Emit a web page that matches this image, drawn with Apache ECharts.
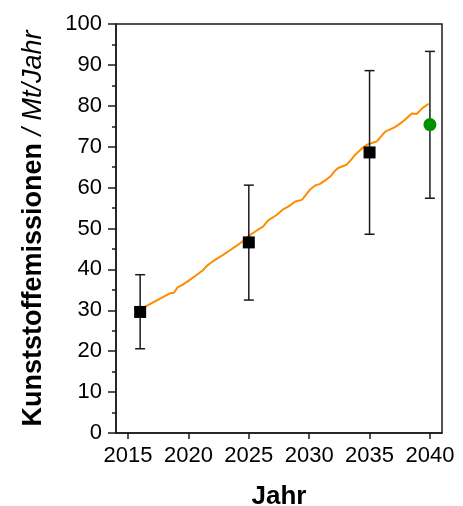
<!DOCTYPE html>
<html>
<head>
<meta charset="utf-8">
<script src="https://cdn.jsdelivr.net/npm/echarts@6/dist/echarts.min.js"></script>
<style>
  html, body { margin: 0; padding: 0; background: #fff; }
  #chart { width: 463px; height: 506px; }
</style>
</head>
<body>
<div id="chart"></div>
<script>
// Projected plastic emissions (Mt/year): model trend plus estimates with ranges
const trendYears = [2016, 2016.5, 2017, 2017.5, 2018, 2018.5, 2018.8, 2019.1, 2019.5, 2020,
  2020.7, 2021.2, 2021.5, 2021.8, 2022.3, 2022.9, 2023.5, 2024, 2024.5, 2025,
  2025.5, 2026.2, 2026.6, 2027.3, 2027.8, 2028.3, 2028.85, 2029.4, 2030.1, 2030.5,
  2030.9, 2031.3, 2031.75, 2032.1, 2032.4, 2033.1, 2033.5, 2033.8, 2034.3, 2034.8,
  2035.2, 2035.6, 2036.3, 2037.1, 2037.7, 2038.5, 2038.9, 2039.4, 2039.9];
const trendValues = [30.2, 31.0, 31.8, 32.6, 33.4, 34.2, 34.3, 35.6, 36.2, 37.2,
  38.7, 39.8, 40.8, 41.5, 42.5, 43.6, 44.8, 45.8, 46.9, 48.2,
  49.2, 50.5, 52.0, 53.3, 54.6, 55.4, 56.6, 57.0, 59.6, 60.5,
  60.9, 61.7, 62.7, 64.0, 64.8, 65.6, 66.9, 68.0, 69.4, 70.5,
  70.9, 71.3, 73.7, 74.8, 76.0, 78.1, 78.0, 79.5, 80.5];

// Estimates (squares) with lower/upper range
const estYears = [2016, 2025, 2035];
const estValues = [29.6, 46.6, 68.6];
const estLow = [20.6, 32.5, 48.6];
const estHigh = [38.7, 60.6, 88.6];

// Single point (circle) with range
const altYears = [2040];
const altValues = [75.4];
const altLow = [57.4];
const altHigh = [93.3];

const xTicks = [2015, 2020, 2025, 2030, 2035, 2040];

const trendData = trendYears.map((y, i) => [y, trendValues[i]]);
const estData = estYears.map((y, i) => [y, estValues[i]]);
const altData = altYears.map((y, i) => [y, altValues[i]]);
const barData = estYears.map((y, i) => [y, estLow[i], estHigh[i]])
  .concat(altYears.map((y, i) => [y, altLow[i], altHigh[i]]));

const ink = '#1a1a1a';
const font = '"Liberation Sans", Arial, sans-serif';

function renderErrorBar(params, api) {
  const x = api.value(0);
  const lo = api.coord([x, api.value(1)]);
  const hi = api.coord([x, api.value(2)]);
  const cap = 5;
  const style = { stroke: ink, lineWidth: 1.5, fill: null };
  return {
    type: 'group',
    children: [
      { type: 'line', shape: { x1: lo[0], y1: lo[1], x2: hi[0], y2: hi[1] }, style },
      { type: 'line', shape: { x1: lo[0] - cap, y1: lo[1], x2: lo[0] + cap, y2: lo[1] }, style },
      { type: 'line', shape: { x1: hi[0] - cap, y1: hi[1], x2: hi[0] + cap, y2: hi[1] }, style }
    ]
  };
}

const chart = echarts.init(document.getElementById('chart'), null, { renderer: 'canvas' });
chart.setOption({
  animation: false,
  backgroundColor: '#fff',
  grid: {
    left: 116, right: 21, top: 24, bottom: 73,
    containLabel: false,
    outerBoundsMode: 'none',
    show: true, borderColor: ink, borderWidth: 1.5, backgroundColor: 'transparent'
  },
  xAxis: {
    type: 'value',
    min: 2014, max: 2041,
    name: 'Jahr',
    nameLocation: 'middle',
    nameGap: 51,
    nameTextStyle: { fontFamily: font, fontSize: 26, fontWeight: 'bold', color: '#000' },
    axisLine: { show: true, lineStyle: { color: ink, width: 1.5 } },
    axisTick: {
      show: true, length: 6, lineStyle: { color: ink, width: 1.5 },
      customValues: xTicks
    },
    axisLabel: {
      show: true, margin: 12, fontFamily: font, fontSize: 22, color: '#000',
      customValues: xTicks,
      formatter: v => String(v)
    },
    splitLine: { show: false }
  },
  yAxis: {
    type: 'value',
    min: 0, max: 100, interval: 10,
    name: '{b|Kunststoffemissionen}{i| / Mt/Jahr}',
    nameLocation: 'middle',
    nameGap: 69,
    nameRotate: 90,
    nameTextStyle: {
      rich: {
        b: { fontFamily: font, fontSize: 27, fontWeight: 'bold', color: '#000' },
        i: { fontFamily: font, fontSize: 27, fontStyle: 'italic', color: '#000' }
      }
    },
    axisLine: { show: true, lineStyle: { color: ink, width: 1.5 } },
    axisTick: { show: true, length: 8, lineStyle: { color: ink, width: 1.5 } },
    minorTick: { show: true, splitNumber: 2, length: 4, lineStyle: { color: ink, width: 1.5 } },
    axisLabel: { margin: 14, fontFamily: font, fontSize: 22, color: '#000' },
    splitLine: { show: false },
    minorSplitLine: { show: false }
  },
  series: [
    {
      type: 'line',
      data: trendData,
      showSymbol: false,
      symbol: 'none',
      lineStyle: { color: '#ff8c00', width: 2 },
      z: 2
    },
    {
      type: 'custom',
      data: barData,
      renderItem: renderErrorBar,
      encode: { x: 0, y: [1, 2] },
      z: 3
    },
    {
      type: 'scatter',
      data: estData,
      symbol: 'rect',
      symbolSize: 12,
      itemStyle: { color: '#000', opacity: 1 },
      z: 4
    },
    {
      type: 'scatter',
      data: altData,
      symbol: 'circle',
      symbolSize: 13,
      itemStyle: { color: '#009100', opacity: 1 },
      z: 4
    }
  ]
});
</script>
</body>
</html>
